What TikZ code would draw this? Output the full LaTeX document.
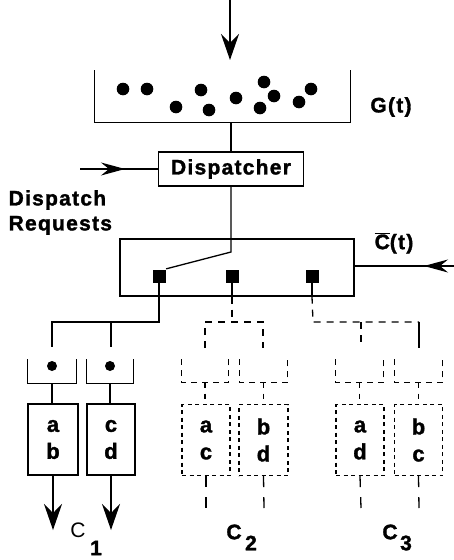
\documentclass[tikz,border=0pt]{standalone}
\usepackage{fontspec}
\setmainfont{Liberation Sans}[BoldFeatures={FakeBold=1.5}]
\newfontfamily\labfont{Liberation Sans}[LetterSpace=6,BoldFeatures={FakeBold=1.5}]
\usetikzlibrary{arrows.meta}
\begin{document}
\begin{tikzpicture}[x=1pt,y=-1pt,line width=1.3pt,
  lab/.style={font=\labfont\bfseries\fontsize{21}{25}\selectfont,inner sep=0pt},
  sub/.style={font=\fontsize{21}{24}\selectfont,inner sep=0pt},
  bsub/.style={font=\bfseries\fontsize{21}{24}\selectfont,inner sep=0pt},
  trayshape/.style={minimum width=#1,minimum height=23pt,inner sep=0pt},
  bx/.style={draw,minimum width=#1,minimum height=71pt,inner sep=0pt,align=center,
    font=\bfseries\fontsize{22}{27}\selectfont},
  dbx/.style={bx=#1,dash pattern=on 4pt off 3.5pt},
  sq/.style={fill,minimum size=13pt,inner sep=0pt},
  arrv/.style={-{Stealth[length=26pt,width=18pt,inset=9pt]}},
  arrh/.style={-{Stealth[length=24pt,width=13pt,inset=8pt]}},
  dsh/.style={dash pattern=on 7pt off 6pt}
]
\useasboundingbox (0,0) rectangle (454,560);

% input arrow and pool G(t)
\coordinate (src) at (230,0);
\coordinate (srctip) at (230,60);
\draw[arrv] (src) -- (srctip);
\node[trayshape=255pt,minimum height=51pt] (g) at (222.5,96.5) {};
\draw (g.north west) -- (g.south west) -- (g.south east) -- (g.north east);
\foreach \p in {(123,89),(147,89),(176,107),(201,90),(209,110),(236,98),(264,82),(260,108),(274,96),(311,89),(299,102)}
  \fill \p circle (6.3pt);
\node[lab] (glab) at (391,107) {G(t)};

% dispatcher
\node[lab,draw,minimum width=145pt,minimum height=34pt,inner sep=0pt] (disp) at (231,169) {Dispatcher};
\draw (g.south -| disp.north) -- (disp.north);
\coordinate (rq) at (80,169);
\coordinate (rqtip) at (125,169);
\draw (rq) -- (disp.west);
\draw[arrh] (rq) -- (rqtip);
\node[lab,align=left,anchor=west] (dr) at (8,212.5) {Dispatch\\Requests};

% switch
\node[draw,minimum width=234pt,minimum height=57pt,inner sep=0pt] (sw) at (237,267.5) {};
\node[sq] (s1) at (159,276) {};
\node[sq] (s2) at (232,276) {};
\node[sq] (s3) at (312,276) {};
\coordinate (pivot) at (231,252);
\draw (disp.south) -- (pivot) -- (s1.north east);
\coordinate (cin) at (454,266);
\coordinate (cintip) at (424,266);
\draw (cin) -- (sw.east |- cin);
\draw[arrh] (cin) -- (cintip);
\node[lab] (clab) at (394,243) {$\overline{\hbox{C}}$(t)};

% branch C1
\coordinate (j1) at (159,322);
\coordinate (b1a) at (52,322);
\coordinate (b1b) at (111,322);
\coordinate (e1a) at (52,347);
\coordinate (e1b) at (111,347);
\draw (s1.south) -- (j1) -- (b1a) -- (e1a);
\draw (b1b) -- (e1b);
\node[trayshape=48pt] (t1a) at (52,371.5) {};
\node[trayshape=46pt] (t1b) at (110,371.5) {};
\foreach \t in {t1a,t1b}{
  \draw (\t.north west) -- (\t.south west) -- (\t.south east) -- (\t.north east);
  \fill ([yshift=5.5pt]\t.center) circle (5pt);
}
\node[bx=50pt] (x1a) at (53,439.5) {a\\b};
\node[bx=48pt] (x1b) at (111,439.5) {c\\d};
\draw (t1a.south) -- (t1a.south |- x1a.north);
\draw (t1b.south) -- (t1b.south |- x1b.north);
\coordinate (o1a) at (53,530);
\coordinate (o1b) at (111,530);
\draw[arrv] (x1a.south) -- (o1a);
\draw[arrv] (x1b.south) -- (o1b);
\node[sub] (c1) at (78,530) {C};
\node[bsub] (c1s) at (96,548) {1};

% branch C2
\coordinate (j2) at (232,322);
\coordinate (b2a) at (205,322);
\coordinate (b2b) at (263,322);
\coordinate (e2a) at (205,348);
\coordinate (e2b) at (263,348);
\draw (s2.south) -- (s2.south |- sw.south);
\draw[dsh] (s2.south |- sw.south) -- (j2);
\draw[dsh] (e2a) -- (b2a) -- (b2b) -- (e2b);
\node[trayshape=46pt,minimum height=22pt] (t2a) at (205,371) {};
\node[trayshape=47pt,minimum height=22pt] (t2b) at (263.5,371) {};
\node[dbx=48pt] (x2a) at (206,440) {a\\c};
\node[dbx=49pt] (x2b) at (263.5,440) {b\\d};
\coordinate (o2a) at (206,508);
\coordinate (o2b) at (264,508);

% branch C3
\coordinate (j3) at (313,322);
\coordinate (b3a) at (361,322);
\coordinate (b3b) at (419,322);
\coordinate (e3a) at (361,348);
\coordinate (e3b) at (419,348);
\draw (s3.south) -- (s3.south |- sw.south);
\draw[dsh] (s3.south |- sw.south) -- (j3) -- (b3b);
\draw[dsh] (b3a) -- (e3a);
\draw (b3b) -- (e3b);
\node[trayshape=47pt,minimum height=22pt] (t3a) at (359.5,371) {};
\node[trayshape=47pt,minimum height=22pt] (t3b) at (418.5,371) {};
\node[dbx=48pt] (x3a) at (360,440) {a\\d};
\node[dbx=48pt] (x3b) at (418.5,440) {b\\c};
\coordinate (o3a) at (361,508);
\coordinate (o3b) at (419,508);

\foreach \t/\x/\o in {t2a/x2a/o2a,t2b/x2b/o2b,t3a/x3a/o3a,t3b/x3b/o3b}{
  \draw[dash pattern=on 6pt off 5pt] (\t.north west) -- (\t.south west) -- (\t.south east) -- (\t.north east);
  \draw[dash pattern=on 5pt off 6pt] (\t.south) -- (\t.south |- \x.north);
  \draw[dash pattern=on 11pt off 10pt] (\x.south) -- (\o);
}
\node[bsub] (c2) at (234,532) {C};
\node[bsub] (c2s) at (251,543) {2};
\node[bsub] (c3) at (390,532) {C};
\node[bsub] (c3s) at (406,543) {3};
\end{tikzpicture}
\end{document}
